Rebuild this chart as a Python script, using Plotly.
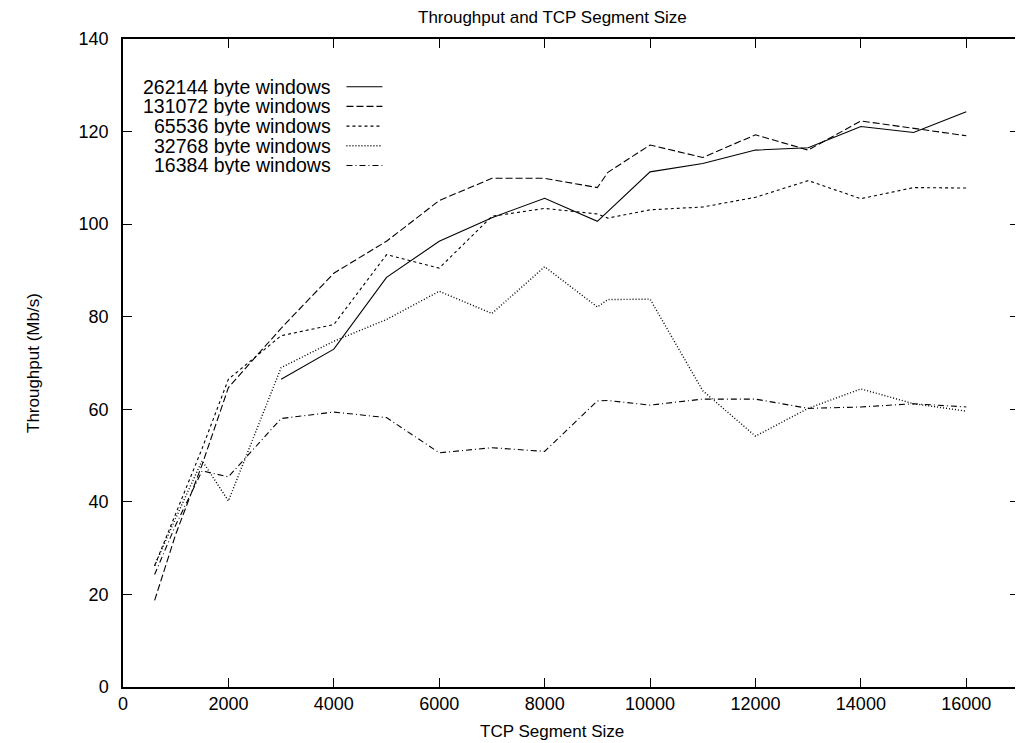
import plotly.graph_objects as go

# ---- data ----
x_262144 = [3000, 4000, 5000, 6000, 7000, 8000, 9000, 10000, 11000, 12000, 13000, 14000, 15000, 16000]
y_262144 = [66.5, 73.0, 88.5, 96.3, 101.4, 105.6, 100.6, 111.3, 113.1, 116.0, 116.5, 121.1, 119.8, 124.3]

x_131072 = [600, 1000, 1500, 2000, 3000, 4000, 5000, 6000, 7000, 8000, 9000, 9200, 10000, 11000, 12000, 13000, 14000, 15000, 16000]
y_131072 = [18.7, 33.0, 48.0, 64.7, 77.5, 89.4, 96.3, 105.1, 109.9, 109.9, 107.9, 111.2, 117.1, 114.4, 119.3, 116.0, 122.3, 120.7, 119.1]

x_65536 = [600, 1000, 1500, 2000, 3000, 4000, 5000, 6000, 7000, 8000, 9000, 9200, 10000, 11000, 12000, 13000, 14000, 15000, 16000]
y_65536 = [26.2, 37.5, 51.5, 66.5, 75.9, 78.3, 93.4, 90.5, 101.7, 103.4, 102.2, 101.3, 103.1, 103.7, 105.8, 109.4, 105.5, 107.9, 107.8]

x_32768 = [600, 1000, 1500, 2000, 3000, 4000, 5000, 6000, 7000, 8000, 9000, 9200, 10000, 11000, 12000, 13000, 14000, 15000, 16000]
y_32768 = [26.2, 36.5, 48.9, 40.2, 69.0, 74.7, 79.4, 85.5, 80.7, 90.8, 82.1, 83.7, 83.8, 64.0, 54.2, 60.2, 64.4, 61.2, 59.6]

x_16384 = [600, 1000, 1500, 2000, 3000, 4000, 5000, 6000, 7000, 8000, 9000, 9200, 10000, 11000, 12000, 13000, 14000, 15000, 16000]
y_16384 = [24.3, 35.0, 46.7, 45.4, 58.0, 59.4, 58.2, 50.6, 51.7, 50.9, 61.8, 61.9, 60.9, 62.2, 62.2, 60.2, 60.5, 61.2, 60.5]

series_names = ["262144 byte windows", "131072 byte windows", "65536 byte windows",
                "32768 byte windows", "16384 byte windows"]
series_x = [x_262144, x_131072, x_65536, x_32768, x_16384]
series_y = [y_262144, y_131072, y_65536, y_32768, y_16384]
dashes = ["solid", "7px,3px", "3px,3px", "1px,2px", "6px,3px,1px,3px"]
widths = [1.1, 1.1, 1.1, 1.4, 1.1]

x_ticks = [0, 2000, 4000, 6000, 8000, 10000, 12000, 14000, 16000]
y_ticks = [0, 20, 40, 60, 80, 100, 120, 140]

title_text = "Throughput and TCP Segment Size"
x_title = "TCP Segment Size"
y_title = "Throughput (Mb/s)"

FONT = "Liberation Sans, Arial, Helvetica, sans-serif"

fig = go.Figure()
for name, xs, ys, d, w in zip(series_names, series_x, series_y, dashes, widths):
    fig.add_trace(go.Scatter(x=xs, y=ys, mode="lines", name=name,
                             line=dict(color="black", width=w, dash=d),
                             showlegend=False))

# gnuplot-style key: right-aligned text followed by a line sample
annotations = []
shapes = []
key_y0 = 0.9264
key_dy = 0.0304
for i, (name, d, w) in enumerate(zip(series_names, dashes, widths)):
    yy = key_y0 - i * key_dy
    annotations.append(dict(x=0.2330, y=yy, xref="paper", yref="paper", text=name,
                            showarrow=False, xanchor="right", yanchor="middle",
                            height=19.6, borderpad=0, valign="middle",
                            font=dict(family=FONT, size=19.5, color="black")))
    shapes.append(dict(type="line", xref="paper", yref="paper",
                       x0=0.2494, x1=0.2895, y0=yy, y1=yy,
                       line=dict(color="black", width=w, dash=d)))

annotations.append(dict(x=0.479, y=1.0, xref="paper", yref="paper", text=title_text,
                        showarrow=False, xanchor="center", yanchor="bottom", yshift=10,
                        font=dict(family=FONT, size=17, color="black")))
annotations.append(dict(x=0.479, y=0, xref="paper", yref="paper", text=x_title,
                        showarrow=False, xanchor="center", yanchor="middle", yshift=-44,
                        font=dict(family=FONT, size=17, color="black")))
annotations.append(dict(x=0, y=0.5, xref="paper", yref="paper", text=y_title,
                        showarrow=False, xanchor="center", yanchor="middle", xshift=-90,
                        textangle=-90,
                        font=dict(family=FONT, size=17, color="black")))

axis_common = dict(showgrid=False, zeroline=False, showline=True, linecolor="black",
                   linewidth=1.5, mirror="ticks", ticks="inside", ticklen=9,
                   tickwidth=1.2, tickcolor="black",
                   tickfont=dict(family=FONT, size=18, color="black"))

# the page body has an 8px margin, so the figure is 8px smaller on each axis
fig.update_layout(
    width=1015, height=735,
    margin=dict(l=115, r=2, t=31, b=56),
    paper_bgcolor="white", plot_bgcolor="white",
    xaxis=dict(range=[0, 17000], tickvals=x_ticks, ticktext=[str(v) for v in x_ticks], **axis_common),
    yaxis=dict(range=[0, 140], tickvals=y_ticks, ticktext=[str(v) for v in y_ticks],
               ticklabelstandoff=9, **axis_common),
    annotations=annotations,
    shapes=shapes,
)

fig.write_html("out.html")
